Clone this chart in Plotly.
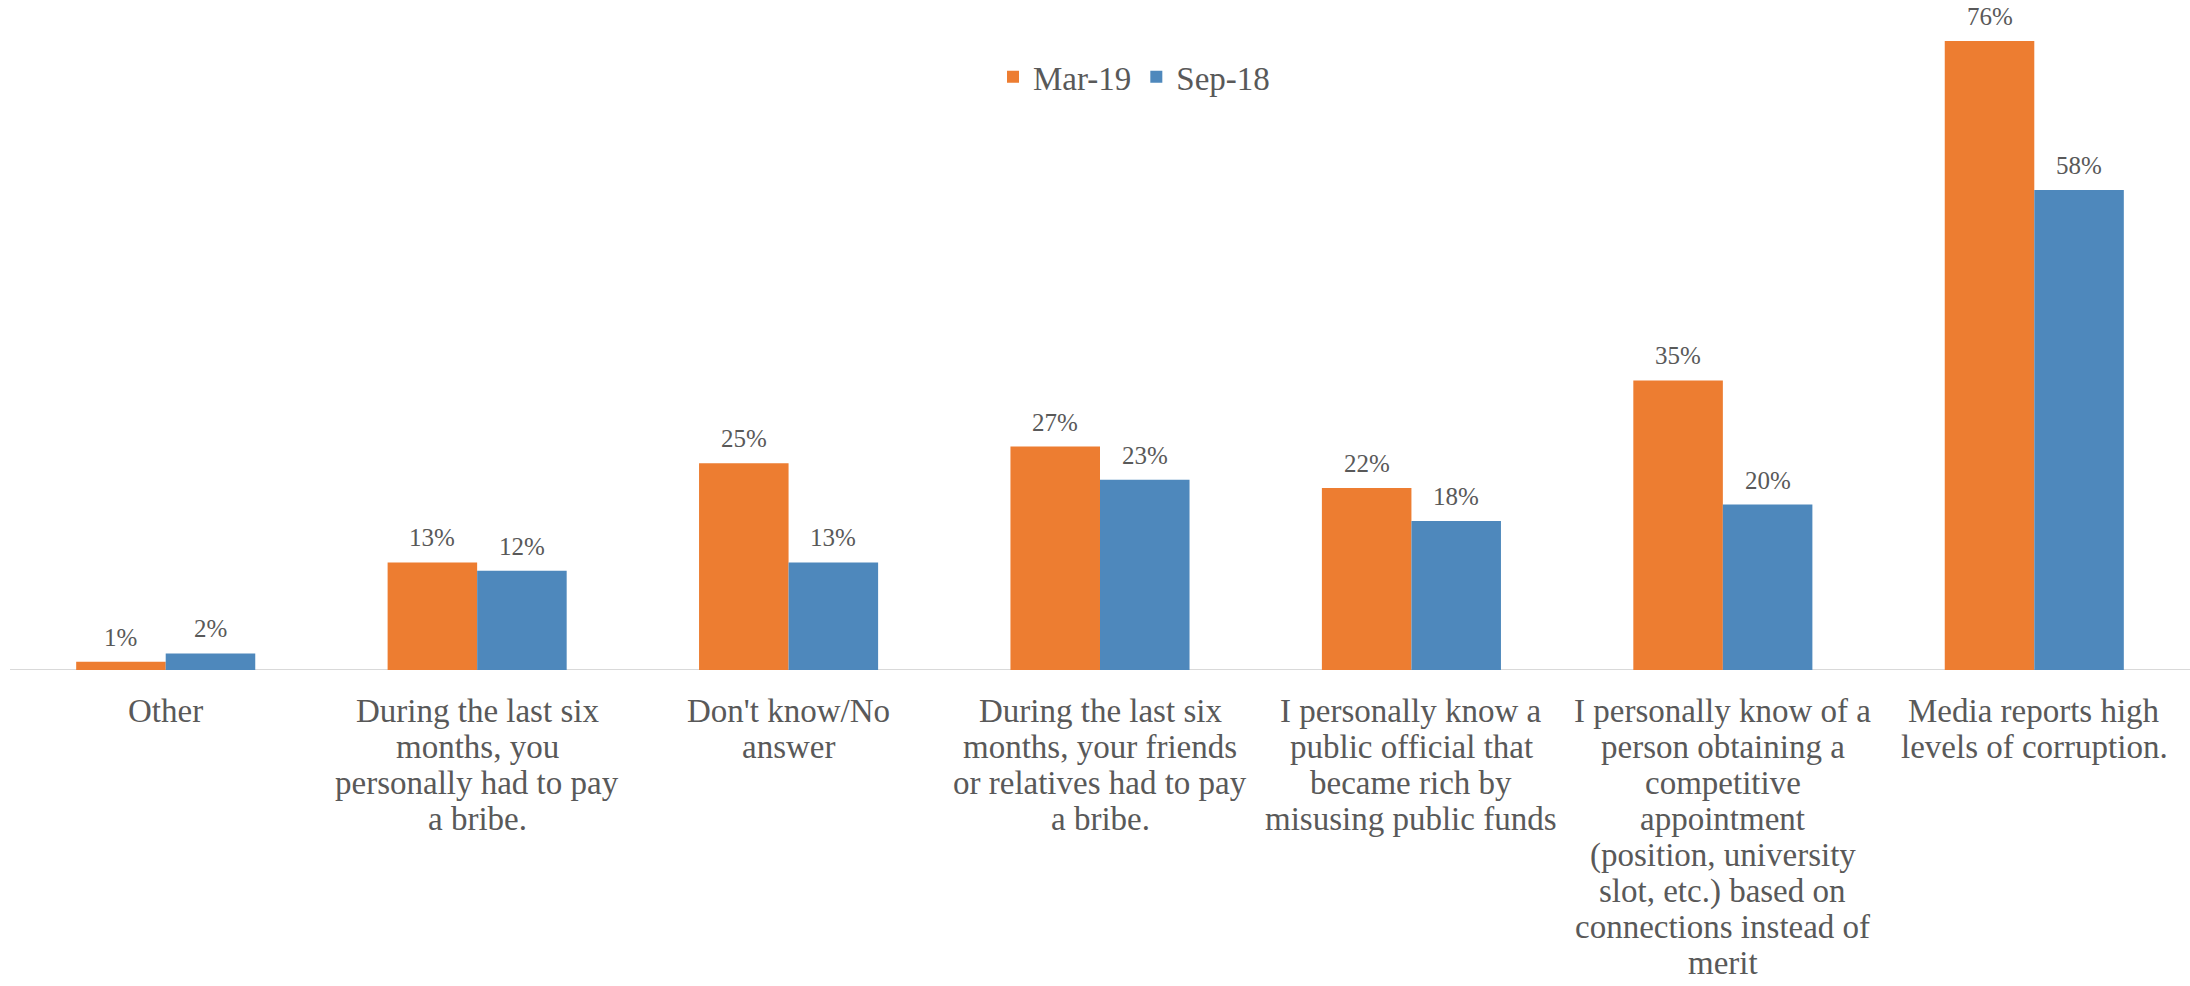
import plotly.graph_objects as go

# Survey categories, one list of wrapped lines per category
category_lines = [
    ["Other"],
    ["During the last six", "months, you", "personally had to pay", "a bribe."],
    ["Don't know/No", "answer"],
    ["During the last six", "months, your friends", "or relatives had to pay", "a bribe."],
    ["I personally know a", "public official that", "became rich by", "misusing public funds"],
    ["I personally know of a", "person obtaining a", "competitive", "appointment",
     "(position, university", "slot, etc.) based on", "connections instead of", "merit"],
    ["Media reports high", "levels of corruption."],
]
mar19 = [1, 13, 25, 27, 22, 35, 76]
sep18 = [2, 12, 13, 23, 18, 20, 58]
series_names = ["Mar-19", "Sep-18"]
colors = ["#ED7D31", "#4E88BC"]

FONT = "Liberation Serif"
TEXT_COLOR = "#595959"
BARGAP = 0.425
LINE_STEP = 36

x = list(range(len(category_lines)))

fig = go.Figure()
for name, vals, col in zip(series_names, [mar19, sep18], colors):
    fig.add_trace(go.Bar(x=x, y=vals, name=name, marker=dict(color=col, line=dict(width=0)),
                         hoverinfo="skip"))

# value labels above each bar
bar_w = (1 - BARGAP) / 2
annotations = []
for k, vals in enumerate([mar19, sep18]):
    off = -bar_w / 2 if k == 0 else bar_w / 2
    for i, v in enumerate(vals):
        annotations.append(dict(x=i + off, y=v, xref="x", yref="y", text=f"{v}%",
                                showarrow=False, yanchor="bottom", yshift=9,
                                font=dict(family=FONT, size=25, color=TEXT_COLOR)))

# category labels, one annotation per wrapped line
for i, lines in enumerate(category_lines):
    for j, line in enumerate(lines):
        annotations.append(dict(x=i, y=0, xref="x", yref="paper", text=line,
                                showarrow=False, yanchor="middle", xanchor="center",
                                yshift=-41 - LINE_STEP * j, borderpad=0,
                                font=dict(family=FONT, size=33, color=TEXT_COLOR)))

fig.update_layout(
    width=2190, height=986,
    margin=dict(l=10, r=0, t=8, b=316),
    paper_bgcolor="white", plot_bgcolor="white",
    barmode="group", bargap=BARGAP, bargroupgap=0,
    font=dict(family=FONT, color=TEXT_COLOR),
    showlegend=True,
    legend=dict(orientation="h", x=0.5156, y=0.896, xanchor="center", yanchor="middle",
                font=dict(family=FONT, size=33, color=TEXT_COLOR),
                bgcolor="rgba(0,0,0,0)", itemclick=False),
    xaxis=dict(range=[-0.5, len(category_lines) - 0.5], showticklabels=False,
               showgrid=False, zeroline=False, showline=False, ticks=""),
    yaxis=dict(range=[0, 80], visible=False, showgrid=False, zeroline=False),
    annotations=annotations,
    shapes=[dict(type="line", xref="paper", yref="y", x0=0, x1=1, y0=0, y1=0,
                 line=dict(color="#D9D9D9", width=2), layer="below")],
)

fig.write_html("out.html")
